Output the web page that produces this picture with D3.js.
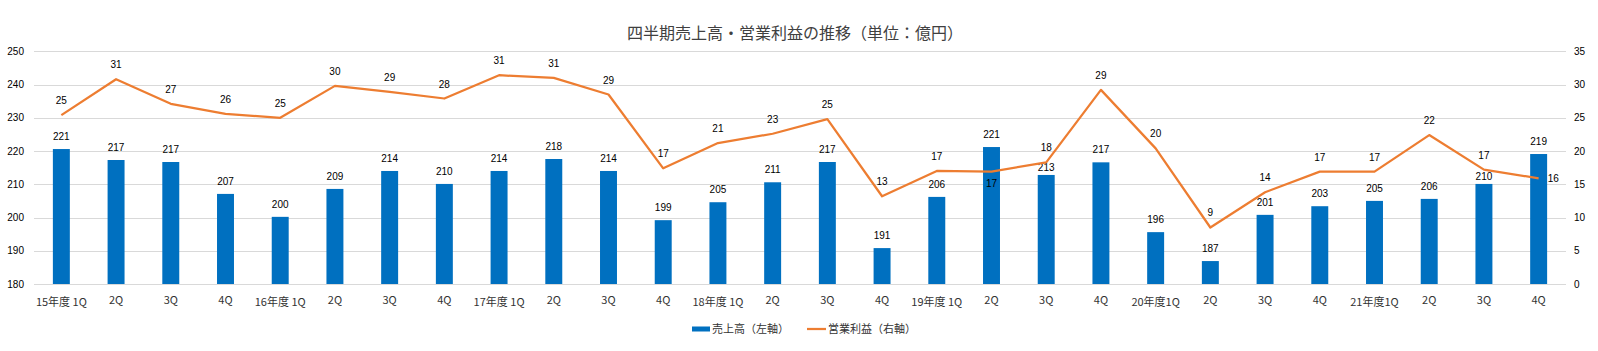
<!DOCTYPE html>
<html>
<head>
<meta charset="utf-8">
<script src="https://cdn.jsdelivr.net/npm/d3@7"></script>
<style>
  body { margin: 0; background: #fff; }
  svg { display: block; }
</style>
</head>
<body>
<div id="chart"></div>
<script>
// quarter labels on the x axis
var categories = ["15年度 1Q","2Q","3Q","4Q","16年度 1Q","2Q","3Q","4Q","17年度 1Q","2Q","3Q","4Q",
                  "18年度 1Q","2Q","3Q","4Q","19年度 1Q","2Q","3Q","4Q","20年度1Q","2Q","3Q","4Q",
                  "21年度1Q","2Q","3Q","4Q"];
// 売上高 (left axis, bars)
var sales = [220.6,217.3,216.7,207.1,200.2,208.6,214.0,210.1,214.0,217.6,214.0,199.2,
             204.6,210.6,216.7,190.8,206.2,221.2,212.8,216.6,195.6,186.9,200.8,203.4,
             205.0,205.6,210.1,219.1];
// 営業利益 (right axis, line)
var profit = [25.4,30.8,27.1,25.6,25.0,29.8,28.9,27.9,31.4,31.0,28.5,17.4,
              21.2,22.6,24.8,13.2,17.0,16.9,18.3,29.2,20.4,8.5,13.8,16.9,
              16.9,22.4,17.2,15.9];
var leftTicks = [180,190,200,210,220,230,240,250];
var rightTicks = [0,5,10,15,20,25,30,35];
var legendItems = ["売上高（左軸）","営業利益（右軸）"];
var title = "四半期売上高・営業利益の推移（単位：億円）";

var width = 1598, height = 351;
var plot = { left: 34, right: 1566, top: 51.3, bottom: 284 };
var BLUE = "#0070C0", ORANGE = "#ED7D31", GRID = "#D9D9D9";
var numFont = "'Liberation Sans', Arial, sans-serif";
var jpFont = "'Noto Sans CJK JP', 'Noto Sans', sans-serif";

var svg = d3.select("#chart").append("svg")
    .attr("width", width)
    .attr("height", height);

var x = d3.scaleBand()
    .domain(d3.range(categories.length))
    .range([plot.left, plot.right])
    .paddingInner(0.69)
    .paddingOuter(0.345);
var yL = d3.scaleLinear().domain([180, 250]).range([plot.bottom, plot.top]);
var yR = d3.scaleLinear().domain([0, 35]).range([plot.bottom, plot.top]);

// title
svg.append("text")
    .attr("x", 795)
    .attr("y", 39)
    .attr("text-anchor", "middle")
    .style("font-family", jpFont)
    .style("font-size", "16px")
    .style("fill", "#404040")
    .text(title);

// gridlines
svg.append("g").selectAll("line")
    .data(leftTicks)
    .enter().append("line")
    .attr("x1", plot.left).attr("x2", plot.right)
    .attr("y1", function (d) { return Math.round(yL(d)) + 0.5; })
    .attr("y2", function (d) { return Math.round(yL(d)) + 0.5; })
    .style("stroke", GRID)
    .style("stroke-width", 1);

// left axis labels
var gL = svg.append("g")
    .attr("transform", "translate(" + (plot.left - 10) + ",0)")
    .call(d3.axisLeft(yL).tickValues(leftTicks).tickSize(0).tickPadding(0));
gL.select(".domain").remove();
gL.selectAll("text").style("font-family", numFont).style("font-size", "10px").style("fill", "#000");

// right axis labels
var gR = svg.append("g")
    .attr("transform", "translate(" + (plot.right + 8) + ",0)")
    .call(d3.axisRight(yR).tickValues(rightTicks).tickSize(0).tickPadding(0));
gR.select(".domain").remove();
gR.selectAll("text").style("font-family", numFont).style("font-size", "10px").style("fill", "#000");

// bottom axis labels (year labels sit a bit lower)
var gX = svg.append("g")
    .attr("transform", "translate(0," + plot.bottom + ")")
    .call(d3.axisBottom(x).tickSize(0).tickPadding(0).tickFormat(function (i) { return categories[i]; }));
gX.select(".domain").remove();
gX.selectAll("text")
    .attr("dy", null)
    .attr("y", function (i) { return categories[i].indexOf("年度") >= 0 ? 22 : 20; })
    .style("font-family", jpFont)
    .style("font-size", "11px")
    .style("fill", "#333");

// bars
svg.append("g").selectAll("rect")
    .data(sales)
    .enter().append("rect")
    .attr("x", function (d, i) { return x(i); })
    .attr("width", x.bandwidth())
    .attr("y", function (d) { return yL(d); })
    .attr("height", function (d) { return yL(180) - yL(d); })
    .style("fill", BLUE);

// bar labels
var barDy = { 18: 5, 26: 5 };
svg.append("g").selectAll("text")
    .data(sales)
    .enter().append("text")
    .attr("x", function (d, i) { return x(i) + x.bandwidth() / 2; })
    .attr("y", function (d, i) { return yL(d) - 9 + (barDy[i] || 0); })
    .attr("text-anchor", "middle")
    .style("font-family", numFont)
    .style("font-size", "10px")
    .style("fill", "#000")
    .text(function (d) { return Math.round(d); });

// profit line
var line = d3.line()
    .x(function (d, i) { return x(i) + x.bandwidth() / 2; })
    .y(function (d) { return yR(d); });
svg.append("path")
    .datum(profit)
    .attr("d", line)
    .style("fill", "none")
    .style("stroke", ORANGE)
    .style("stroke-width", 2.25)
    .style("stroke-linejoin", "round");

// profit labels; 19Q2 goes below, last one to the right
svg.append("g").selectAll("text")
    .data(profit)
    .enter().append("text")
    .attr("x", function (d, i) {
        var cx = x(i) + x.bandwidth() / 2;
        return i == profit.length - 1 ? cx + 9 : cx;
    })
    .attr("y", function (d, i) {
        if (i == 17) return yR(d) + 15;
        if (i == profit.length - 1) return yR(d) + 4;
        return yR(d) - 11;
    })
    .attr("text-anchor", function (d, i) { return i == profit.length - 1 ? "start" : "middle"; })
    .style("font-family", numFont)
    .style("font-size", "10px")
    .style("fill", "#000")
    .text(function (d) { return Math.round(d); });

// legend
var lg = svg.append("g");
var ly = 329;
var lx = 692;
var item1 = lg.append("g");
item1.append("rect")
    .attr("x", lx).attr("y", ly - 2.5)
    .attr("width", 18).attr("height", 5)
    .style("fill", BLUE);
var t1 = item1.append("text")
    .attr("x", lx + 20).attr("y", ly + 4)
    .style("font-family", jpFont).style("font-size", "11px").style("fill", "#333")
    .text(legendItems[0]);
var lx2 = lx + 20 + t1.node().getComputedTextLength() + 18;
lg.append("line")
    .attr("x1", lx2).attr("x2", lx2 + 19)
    .attr("y1", ly).attr("y2", ly)
    .style("stroke", ORANGE).style("stroke-width", 2.25);
lg.append("text")
    .attr("x", lx2 + 21).attr("y", ly + 4)
    .style("font-family", jpFont).style("font-size", "11px").style("fill", "#333")
    .text(legendItems[1]);
</script>
</body>
</html>
